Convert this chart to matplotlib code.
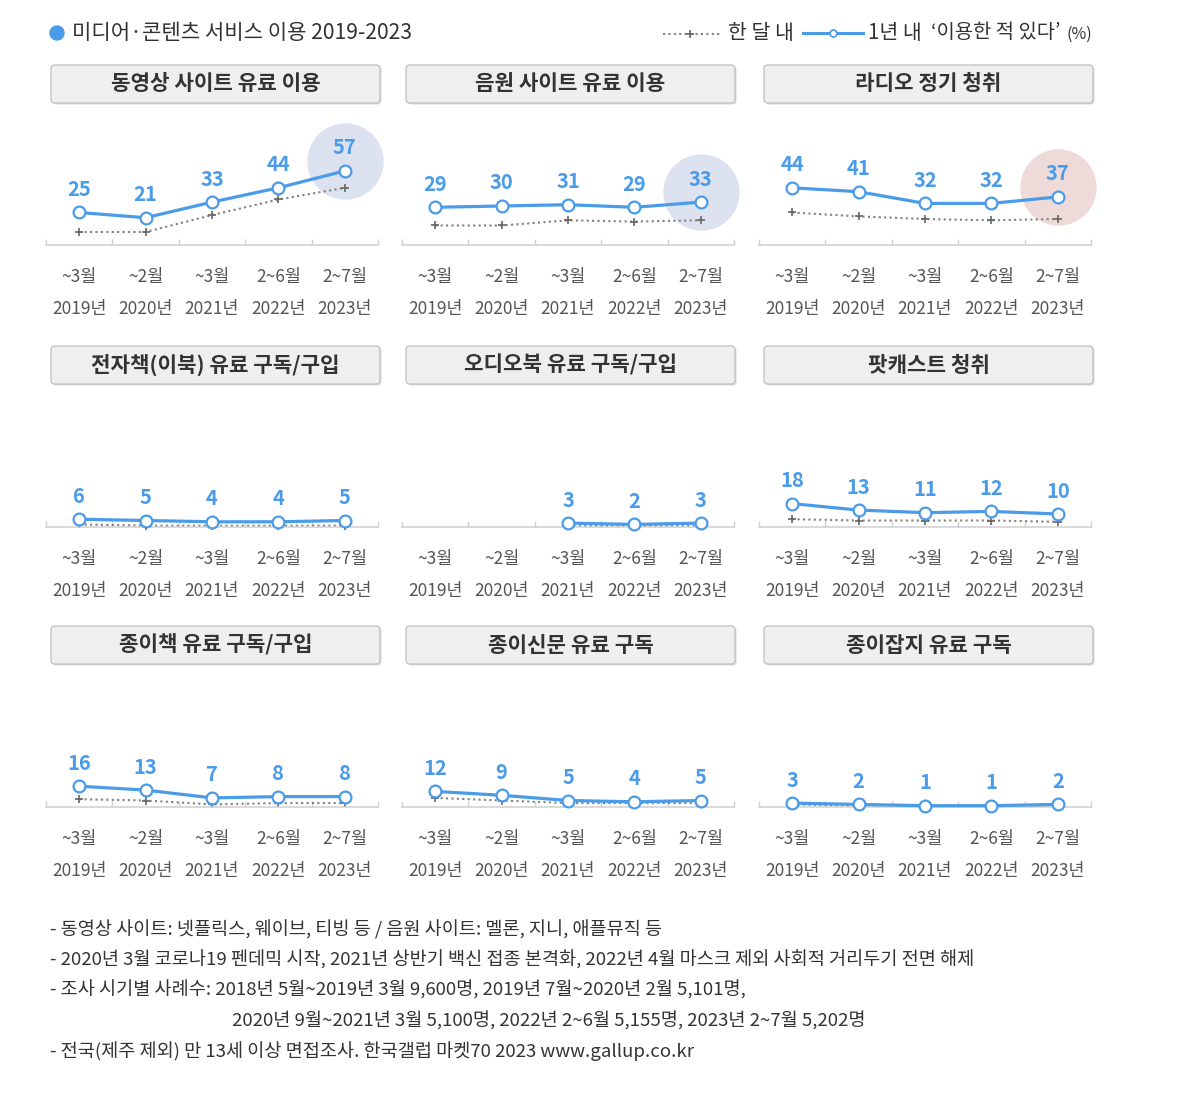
import numpy as np
import matplotlib
matplotlib.use("Agg")
import matplotlib.pyplot as plt
import matplotlib.transforms as mtransforms
from matplotlib.patches import FancyBboxPatch, Circle

plt.rcParams['font.family'] = ['Noto Sans CJK KR', 'DejaVu Sans']

# ---------------- data ----------------
months = ['~3월', '~2월', '~3월', '2~6월', '2~7월']
years = ['2019년', '2020년', '2021년', '2022년', '2023년']

titles = ['동영상 사이트 유료 이용', '음원 사이트 유료 이용', '라디오 정기 청취',
          '전자책(이북) 유료 구독/구입', '오디오북 유료 구독/구입', '팟캐스트 청취',
          '종이책 유료 구독/구입', '종이신문 유료 구독', '종이잡지 유료 구독']

nan = np.nan
video_year = [25, 21, 33, 44, 57]
video_month = [10, 10, 23, 35, 44]
music_year = [29, 30, 31, 29, 33]
music_month = [15, 15, 19, 18, 19]
radio_year = [44, 41, 32, 32, 37]
radio_month = [25, 22, 20, 19, 20]
ebook_year = [6, 5, 4, 4, 5]
ebook_month = [2, 1, 1, 1, 1]
audiobook_year = [nan, nan, 3, 2, 3]
audiobook_month = [nan, nan, 1, 1, 1]
podcast_year = [18, 13, 11, 12, 10]
podcast_month = [6, 5, 5, 5, 4]
paperbook_year = [16, 13, 7, 8, 8]
paperbook_month = [6, 5, 2, 3, 3]
newspaper_year = [12, 9, 5, 4, 5]
newspaper_month = [7, 5, 3, 3, 3]
magazine_year = [3, 2, 1, 1, 2]
magazine_month = [2, 1, 1, 1, 1]

year_series = [video_year, music_year, radio_year, ebook_year, audiobook_year,
               podcast_year, paperbook_year, newspaper_year, magazine_year]
month_series = [video_month, music_month, radio_month, ebook_month, audiobook_month,
                podcast_month, paperbook_month, newspaper_month, magazine_month]
highlight = ['#dce2ef', '#dce2ef', '#eedad9', None, None, None, None, None, None]

footer = ['- 동영상 사이트: 넷플릭스, 웨이브, 티빙 등 / 음원 사이트: 멜론, 지니, 애플뮤직 등',
          '- 2020년 3월 코로나19 펜데믹 시작, 2021년 상반기 백신 접종 본격화, 2022년 4월 마스크 제외 사회적 거리두기 전면 해제',
          '- 조사 시기별 사례수: 2018년 5월~2019년 3월 9,600명, 2019년 7월~2020년 2월 5,101명,',
          '2020년 9월~2021년 3월 5,100명, 2022년 2~6월 5,155명, 2023년 2~7월 5,202명',
          '- 전국(제주 제외) 만 13세 이상 면접조사. 한국갤럽 마켓70 2023 www.gallup.co.kr']

# ---------------- style / layout ----------------
W, H = 1200, 1095
BLUE = '#4a9be8'
GRAYL = '#808080'
TXT = '#333333'
px_per_unit = 1.3
row_base = [245, 527, 807]
row_box = [65, 346, 626]
col_x0 = [46, 402, 759]
box_x0 = [51, 406, 764]
panel_w = 332
panel_h = 135

fig = plt.figure(figsize=(W / 100, H / 100), dpi=100)
fig.patch.set_facecolor('white')

ov = fig.add_axes([0, 0, 1, 1], zorder=0)
ov.set_xlim(0, W)
ov.set_ylim(H, 0)
ov.axis('off')

# title
ov.add_patch(Circle((57, 33), 7, color=BLUE))
ov.text(72, 33, '미디어·콘텐츠 서비스 이용 2019-2023', fontsize=15.2, color=TXT,
        va='center', ha='left', fontweight='medium')

# legend
ov.plot([663, 720], [34, 34], color=GRAYL, lw=1.5, ls=(0, (1, 1.6)))
ov.plot([690], [34], marker='+', color='#666666', ms=6, mew=1.2)
ov.text(728, 33, '한 달 내', fontsize=14.8, color=TXT, va='center', ha='left')
ov.plot([803, 863], [33, 33], color=BLUE, lw=2.2)
ov.plot([833], [33], marker='o', color=BLUE, mfc='white', ms=5, mew=1.2)
ov.text(868, 33, '1년 내', fontsize=14.8, color=TXT, va='center', ha='left')
ov.text(931, 33, '‘이용한 적 있다’', fontsize=14.3, color=TXT, va='center', ha='left')
ov.text(1066, 34, '(%)', fontsize=11.5, color=TXT, va='center', ha='left')

# footer
fx = [50, 50, 50, 232, 50]
fy = [930, 960, 990, 1021, 1051]
for t, x, y in zip(footer, fx, fy):
    ov.text(x, y, t, fontsize=13.4, color=TXT, va='center', ha='left')

xs = np.arange(len(months))
for i in range(9):
    r, c = divmod(i, 3)
    # title box
    bx, by = box_x0[c], row_box[r]
    ov.add_patch(FancyBboxPatch((bx + 1.5, by + 1.5), 329, 38,
                                boxstyle='round,pad=0,rounding_size=4',
                                fc='#d9d9d9', ec='none', zorder=1))
    ov.add_patch(FancyBboxPatch((bx, by), 329, 38,
                                boxstyle='round,pad=0,rounding_size=4',
                                fc='#efefef', ec='#c4c4c4', lw=1.0, zorder=2))
    ov.text(bx + 329 / 2, by + 19, titles[i], fontsize=15.3, fontweight='bold',
            color=TXT, ha='center', va='center', zorder=3)

    base = row_base[r]
    ax = fig.add_axes([col_x0[c] / W, 1 - base / H, panel_w / W, panel_h / H], zorder=2)
    ax.patch.set_visible(False)
    ax.set_xlim(-0.5, 4.5)
    ax.set_ylim(0, panel_h / px_per_unit)
    for s in ['top', 'left', 'right']:
        ax.spines[s].set_visible(False)
    ax.spines['bottom'].set_color('#d0d0d0')
    ax.spines['bottom'].set_linewidth(1.1)
    ax.set_yticks([])
    ax.set_xticks(np.arange(-0.5, 5, 1.0))
    ax.set_xticklabels([])
    ax.tick_params(axis='x', direction='in', length=4, color='#d0d0d0', width=1.0)

    yv = np.array(year_series[i], dtype=float)
    mv = np.array(month_series[i], dtype=float)

    if highlight[i]:
        off = ax.transData + mtransforms.ScaledTranslation(0, 0.10, fig.dpi_scale_trans)
        ax.plot([xs[-1]], [yv[-1]], marker='o', ms=55, color=highlight[i],
                mec='none', transform=off, clip_on=False, zorder=0)

    ax.plot(xs, mv, color=GRAYL, lw=1.5, ls=(0, (1, 1.6)), clip_on=False, zorder=2)
    ax.plot(xs, mv, ls='none', marker='+', color='#666666', ms=6, mew=1.2,
            clip_on=False, zorder=2)
    ax.plot(xs, yv, color=BLUE, lw=2.3, clip_on=False, zorder=3,
            marker='o', mfc='white', mec=BLUE, ms=8.5, mew=1.6)
    for x, v in zip(xs, yv):
        if np.isnan(v):
            continue
        ax.annotate(f'{int(v)}', (x, v), xytext=(0, 23), textcoords='offset pixels',
                    ha='center', va='center', fontsize=14.5, fontweight='bold',
                    color=BLUE, annotation_clip=False)
    for x in xs:
        ax.annotate(months[x], (x, 0), xytext=(0, -32), textcoords='offset pixels',
                    ha='center', va='center', fontsize=12.5, color='#555555',
                    annotation_clip=False)
        ax.annotate(years[x], (x, 0), xytext=(0, -64), textcoords='offset pixels',
                    ha='center', va='center', fontsize=12.5, color='#555555',
                    annotation_clip=False)

fig.savefig('out.png', dpi=100, facecolor='white')
